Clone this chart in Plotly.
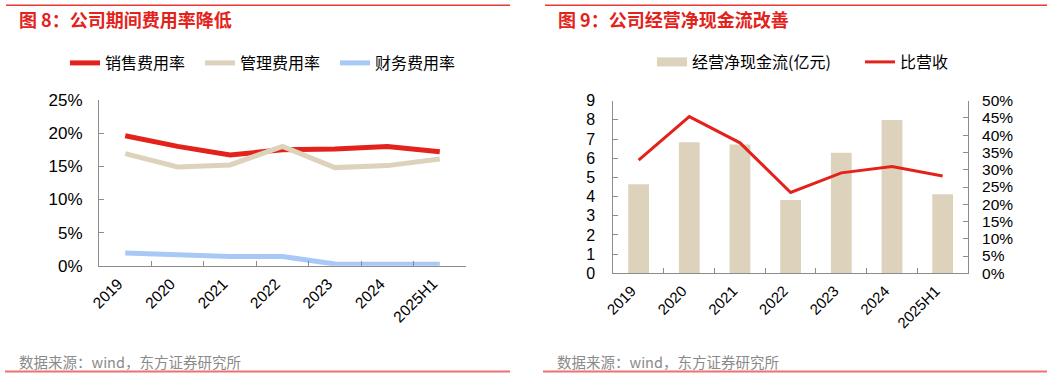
import plotly.graph_objects as go

W, H = 1061, 378

categories = ["2019", "2020", "2021", "2022", "2023", "2024", "2025H1"]

# Left chart: expense ratios (%)
sales_ratio = [19.6, 18.0, 16.7, 17.5, 17.6, 18.0, 17.2]
admin_ratio = [16.9, 14.9, 15.2, 18.0, 14.8, 15.1, 16.1]
fin_ratio = [1.9, 1.7, 1.4, 1.4, 0.25, 0.2, 0.2]

# Right chart: operating net cash flow (100m yuan) and ratio to revenue (%)
ocf = [4.64, 6.83, 6.72, 3.82, 6.29, 7.99, 4.12]
ocf_to_rev = [32.8, 45.4, 37.8, 23.4, 29.1, 30.9, 28.2]

left_y_ticks = [0, 5, 10, 15, 20, 25]
left_y_labels = ["0%", "5%", "10%", "15%", "20%", "25%"]
right_y1_ticks = list(range(0, 10))
right_y2_ticks = list(range(0, 55, 5))
right_y2_labels = [f"{v}%" for v in right_y2_ticks]

RED = "#E3231B"
BEIGE = "#DDD3BC"
BLUE = "#A8C9F7"
AXIS = "#8C8C8C"
FONT = "Liberation Sans, Arial, Noto Sans CJK SC, sans-serif"
CJK = "Noto Sans CJK SC, sans-serif"


def px(x):
    return x / W


def py(y):
    return 1 - y / H


fig = go.Figure()

fig.add_trace(go.Scatter(x=categories, y=sales_ratio, mode="lines", name="销售费用率",
                         line=dict(color=RED, width=5), xaxis="x", yaxis="y",
                         legend="legend", cliponaxis=False))
fig.add_trace(go.Scatter(x=categories, y=admin_ratio, mode="lines", name="管理费用率",
                         line=dict(color=BEIGE, width=5), xaxis="x", yaxis="y",
                         legend="legend", cliponaxis=False))
fig.add_trace(go.Scatter(x=categories, y=fin_ratio, mode="lines", name="财务费用率",
                         line=dict(color=BLUE, width=5), xaxis="x", yaxis="y",
                         legend="legend", cliponaxis=False))

fig.add_trace(go.Bar(x=categories, y=ocf, name="经营净现金流(亿元)", marker=dict(color=BEIGE, line=dict(width=0)),
                     width=0.41, xaxis="x2", yaxis="y2", showlegend=False))
# legend proxy for the bar series (wide flat swatch)
fig.add_trace(go.Scatter(x=[None], y=[None], mode="lines", name="经营净现金流(亿元)",
                         line=dict(color=BEIGE, width=9), xaxis="x2", yaxis="y2",
                         legend="legend2"))
fig.add_trace(go.Scatter(x=categories, y=ocf_to_rev, mode="lines", name="比营收",
                         line=dict(color=RED, width=3), xaxis="x2", yaxis="y3",
                         legend="legend2"))

common_x = dict(type="category", showline=True, linecolor=AXIS, linewidth=1,
                ticks="inside", tickson="boundaries", ticklen=5, tickcolor=AXIS,
                tickangle=-45, showgrid=False, zeroline=False, fixedrange=True,
                automargin=False, ticklabelshift=-7, ticklabelstandoff=2)
common_y = dict(showline=True, linecolor=AXIS, linewidth=1, ticks="inside", ticklen=5,
                tickcolor=AXIS, showgrid=False, zeroline=False, automargin=False,
                tickmode="array")

fig.update_layout(
    template="none",
    width=W, height=H,
    margin=dict(l=0, r=0, t=0, b=0, autoexpand=False),
    paper_bgcolor="white", plot_bgcolor="white",
    font=dict(family=FONT, color="#000000"),
    xaxis=dict(common_x, domain=[px(99), px(466)], anchor="y",
               tickfont=dict(size=15.5, family=FONT), range=[-0.5, 6.5]),
    yaxis=dict(common_y, domain=[py(265.7), py(100)], anchor="x", range=[0, 25],
               tickvals=left_y_ticks, ticktext=left_y_labels,
               tickfont=dict(size=17, family=FONT), ticklabelstandoff=12),
    xaxis2=dict(common_x, domain=[px(613.3), px(968)], anchor="y2",
                tickfont=dict(size=15, family=FONT), range=[-0.5, 6.5]),
    yaxis2=dict(common_y, domain=[py(273.3), py(100.7)], anchor="x2", range=[0, 9],
                tickvals=right_y1_ticks, ticktext=[str(v) for v in right_y1_ticks],
                tickfont=dict(size=16, family=FONT), ticklabelstandoff=14),
    yaxis3=dict(common_y, domain=[py(273.3), py(100.7)], anchor="x2", overlaying="y2", side="right",
                range=[0, 50], tickvals=right_y2_ticks, ticktext=right_y2_labels,
                tickfont=dict(size=15.5, family=FONT), ticklabelstandoff=10),
    legend=dict(orientation="h", x=px(65), y=py(63), xanchor="left", yanchor="middle",
                font=dict(size=16, family=CJK), entrywidth=90, entrywidthmode="pixels",
                bgcolor="rgba(0,0,0,0)", itemclick=False, itemdoubleclick=False),
    legend2=dict(orientation="h", x=px(652), y=py(62), xanchor="left", yanchor="middle",
                 font=dict(size=16, family=CJK), entrywidth=163, entrywidthmode="pixels",
                 bgcolor="rgba(0,0,0,0)", itemclick=False, itemdoubleclick=False),
    showlegend=True,
)

# Header / footer rules
for x0, x1 in [(6, 510), (545, 1047)]:
    fig.add_shape(type="line", xref="paper", yref="paper", x0=px(x0), x1=px(x1),
                  y0=py(5.3), y1=py(5.3), line=dict(color="#E8382F", width=1.5))
for x0, x1 in [(5, 510), (543, 1047)]:
    fig.add_shape(type="line", xref="paper", yref="paper", x0=px(x0), x1=px(x1),
                  y0=py(371.5), y1=py(371.5), line=dict(color="#F07070", width=2))

# Titles
fig.add_annotation(text="<b>图 8：公司期间费用率降低</b>", xref="paper", yref="paper",
                   x=px(17), y=py(19), xanchor="left", yanchor="middle", showarrow=False,
                   font=dict(size=18, color="#E3231B", family=CJK))
fig.add_annotation(text="<b>图 9：公司经营净现金流改善</b>", xref="paper", yref="paper",
                   x=px(556), y=py(19), xanchor="left", yanchor="middle", showarrow=False,
                   font=dict(size=18, color="#E3231B", family=CJK))

# Sources
for x in [17, 555]:
    fig.add_annotation(text="数据来源：wind，东方证券研究所", xref="paper", yref="paper",
                       x=px(x), y=py(361), xanchor="left", yanchor="middle", showarrow=False,
                       font=dict(size=14.5, color="#8A8A8A", family=CJK))

fig.write_html("out.html", config=dict(displayModeBar=False, staticPlot=True),
               post_script="document.body.style.margin='0';document.body.style.padding='0';")
